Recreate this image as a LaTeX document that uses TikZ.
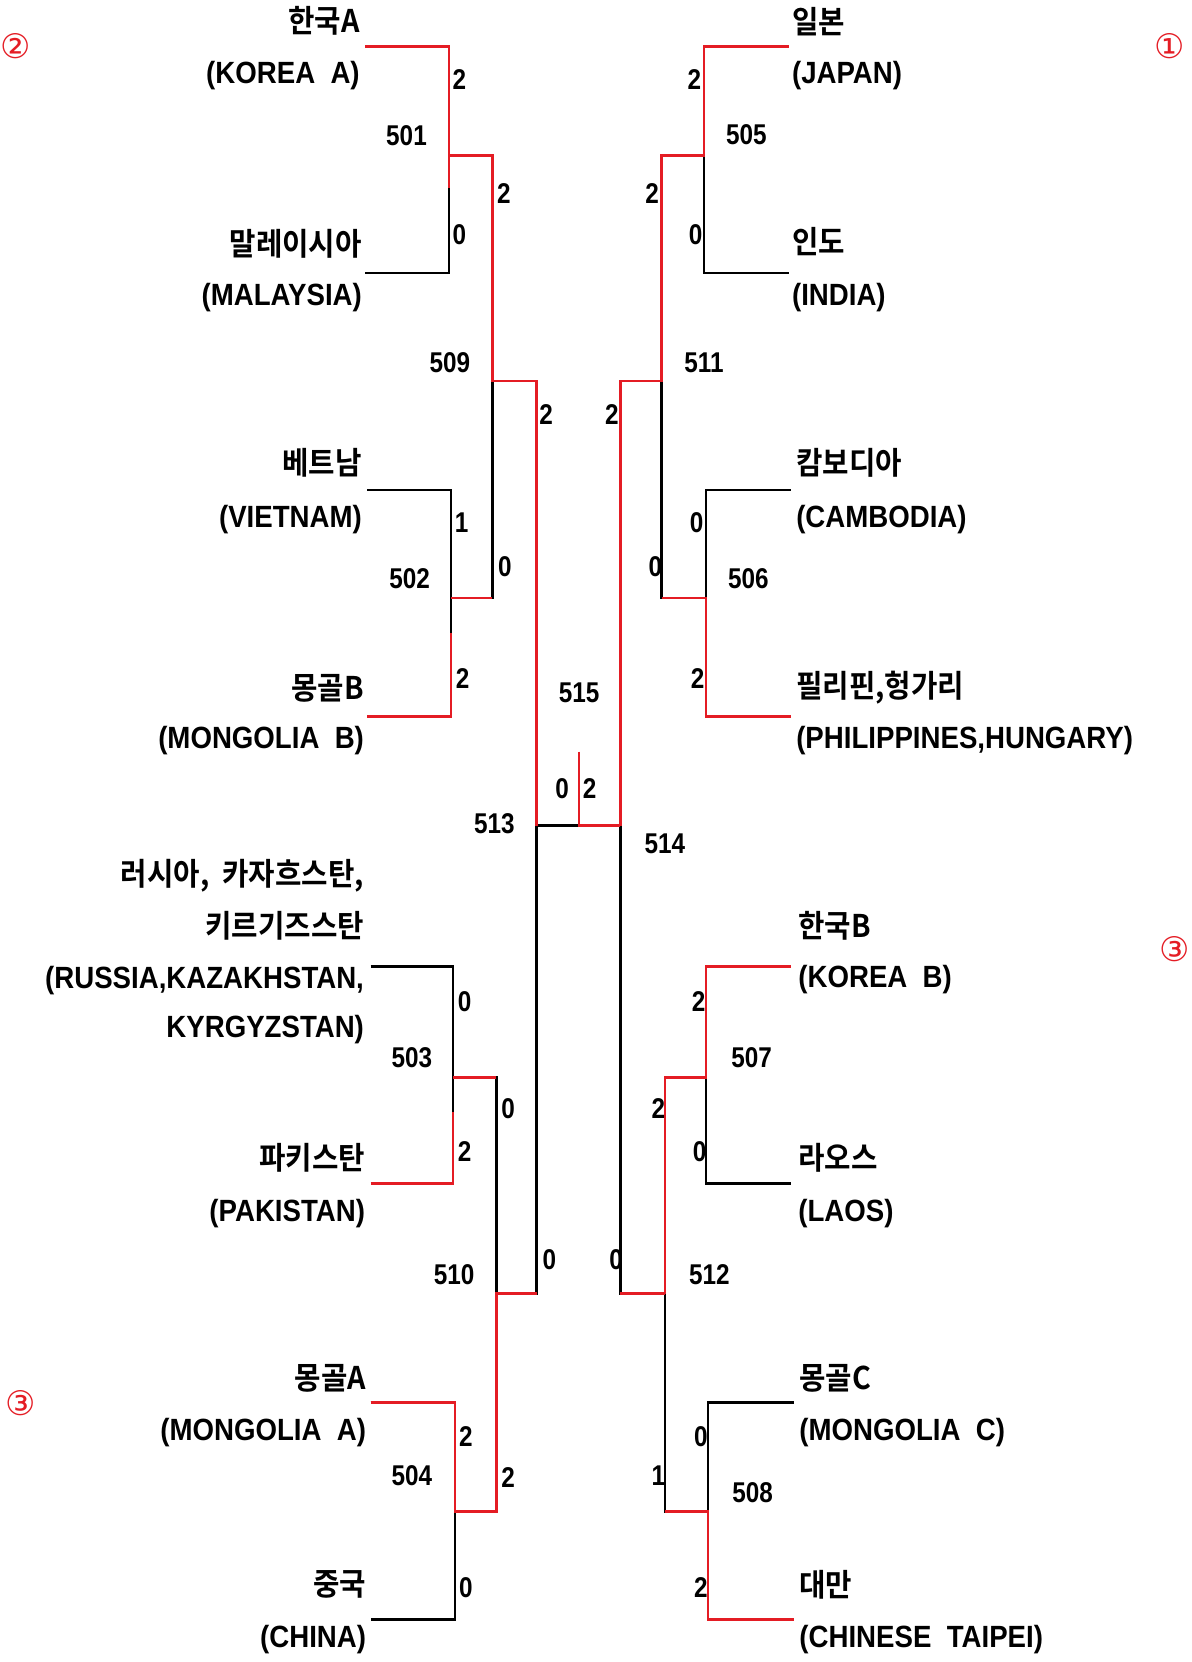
\documentclass[tikz,border=0pt]{standalone}
\usepackage{fontspec}
\setmainfont{Liberation Sans}
\newfontfamily\labfont[FakeStretch=0.9]{Liberation Sans Bold}
\newfontfamily\numfont[FakeStretch=0.85]{Liberation Sans Bold}
\newfontfamily\krfont[FakeStretch=0.92]{Noto Sans CJK KR Bold}
\newfontfamily\circfont{DejaVu Sans}
\definecolor{bred}{RGB}{228,28,36}
\tikzset{
  lose/.style={draw=black, line width=2.4pt, line cap=square},
  win/.style={draw=bred, line width=2.4pt, line cap=square},
  kl/.style={font=\krfont\fontsize{29.5}{31}\selectfont, inner sep=0pt},
  el/.style={font=\labfont\fontsize{29}{31}\selectfont, inner sep=0pt, yshift=-3pt},
  sc/.style={font=\numfont\fontsize{27}{29}\selectfont, inner sep=0pt},
  mn/.style={font=\numfont\fontsize{27}{29}\selectfont, inner sep=0pt},
  cir/.style={font=\circfont\fontsize{32}{34}\selectfont, text=bred, inner sep=0pt}
}
\begin{document}
\begin{tikzpicture}[x=1pt,y=-1pt]
\useasboundingbox (0,0) rectangle (1126,1570);
% ---------- coordinates ----------
\coordinate (t1) at (345,44);
\coordinate (t2) at (345,258);
\coordinate (j501) at (424,147);
\coordinate (t3) at (347,463);
\coordinate (t4) at (347,677);
\coordinate (j502) at (426,565);
\coordinate (j509) at (465,360);
\coordinate (t5) at (350,913);
\coordinate (t6) at (350,1118);
\coordinate (j503) at (428,1018);
\coordinate (t7) at (350,1325);
\coordinate (t8) at (350,1530);
\coordinate (j504) at (430,1428);
\coordinate (j510) at (469,1222);
\coordinate (j513) at (507,780);
\coordinate (f) at (547,710);
\coordinate (fb) at (547,780);
\coordinate (j514) at (586,780);
\coordinate (j511) at (625,360);
\coordinate (j505) at (665,147);
\coordinate (r1) at (745,44);
\coordinate (r2) at (745,258);
\coordinate (j506) at (667,565);
\coordinate (r3) at (747,463);
\coordinate (r4) at (747,677);
\coordinate (j512) at (628,1222);
\coordinate (j507) at (667,1018);
\coordinate (r5) at (747,913);
\coordinate (r6) at (747,1118);
\coordinate (j508) at (669,1428);
\coordinate (r7) at (750,1325);
\coordinate (r8) at (750,1530);
% ---------- black brackets ----------
\draw[lose] (t1) -| (j501) |- (t2);
\draw[lose] (t3) -| (j502) |- (t4);
\draw[lose] (j501) -| (j509) |- (j502);
\draw[lose] (t5) -| (j503) |- (t6);
\draw[lose] (t7) -| (j504) |- (t8);
\draw[lose] (j503) -| (j510) |- (j504);
\draw[lose] (j509) -| (j513) |- (j510);
\draw[lose] (j513) -- (j514);
\draw[lose] (j511) -| (j514) |- (j512);
\draw[lose] (r1) -| (j505) |- (r2);
\draw[lose] (j505) -| (j511) |- (j506);
\draw[lose] (r3) -| (j506) |- (r4);
\draw[lose] (r5) -| (j507) |- (r6);
\draw[lose] (r7) -| (j508) |- (r8);
\draw[lose] (j507) -| (j512) |- (j508);
% ---------- red winner paths ----------
\draw[win] (t1) -| ([yshift=-31pt]j501);
\draw[win] (j501) -| (j509) -- (j509 -| j513) -- (j513);
\draw[win] (t4) -| ([yshift=-33pt]j502);
\draw[win] (j502) -- (j502 -| j509);
\draw[win] (t6) -| ([yshift=-32pt]j503);
\draw[win] (j503) -- (j503 -| j510);
\draw[win] (t7) -| (j504) -- (j504 -| j510) -- (j510) -- (j510 -| j513);
\draw[win] (f) -- (fb) -- (j514);
\draw[win] (j514) -- (j511 -| j514) -- (j511) -- (j505 -| j511) -- (j505) -- (r1 -| j505) -- (r1);
\draw[win] (r4) -| (j506) -- (j506 -| j511);
\draw[win] (j512) -- (j512 -| j514);
\draw[win] (r5) -| (j507) -- (j507 -| j512) -- (j512);
\draw[win] (r8) -| (j508) -- (j508 -| j512);
% ---------- left team labels ----------
\node[kl, anchor=east] (n1k) at (340,20) {한국A};
\node[el, anchor=east] (n1e) at (340,68) {(KOREA\ \ A)};
\node[kl, anchor=east] (n2k) at (342,230) {말레이시아};
\node[el, anchor=east] (n2e) at (342,278) {(MALAYSIA)};
\node[kl, anchor=east] (n3k) at (342,437) {베트남};
\node[el, anchor=east] (n3e) at (342,488) {(VIETNAM)};
\node[kl, anchor=east] (n4k) at (344,650) {몽골B};
\node[el, anchor=east] (n4e) at (344,697) {(MONGOLIA\ \ B)};
\node[kl, anchor=east] (n5k) at (344,827) {러시아,\ \ 카자흐스탄,};
\node[kl, anchor=east] (n5k2) at (344,875) {키르기즈스탄};
\node[el, anchor=east] (n5e) at (344,923) {(RUSSIA,KAZAKHSTAN,};
\node[el, anchor=east] (n5e2) at (344,970) {KYRGYZSTAN)};
\node[kl, anchor=east] (n6k) at (345,1094) {파키스탄};
\node[el, anchor=east] (n6e) at (345,1143) {(PAKISTAN)};
\node[kl, anchor=east] (n7k) at (346,1302) {몽골A};
\node[el, anchor=east] (n7e) at (346,1350) {(MONGOLIA\ \ A)};
\node[kl, anchor=east] (n8k) at (346,1497) {중국};
\node[el, anchor=east] (n8e) at (346,1546) {(CHINA)};
% ---------- right team labels ----------
\node[kl, anchor=west] (m1k) at (748,20) {일본};
\node[el, anchor=west] (m1e) at (748,68) {(JAPAN)};
\node[kl, anchor=west] (m2k) at (748,228) {인도};
\node[el, anchor=west] (m2e) at (748,278) {(INDIA)};
\node[kl, anchor=west] (m3k) at (752,437) {캄보디아};
\node[el, anchor=west] (m3e) at (752,488) {(CAMBODIA)};
\node[kl, anchor=west] (m4k) at (752,650) {필리핀,헝가리};
\node[el, anchor=west] (m4e) at (752,697) {(PHILIPPINES,HUNGARY)};
\node[kl, anchor=west] (m5k) at (754,875) {한국B};
\node[el, anchor=west] (m5e) at (754,922) {(KOREA\ \ B)};
\node[kl, anchor=west] (m6k) at (754,1094) {라오스};
\node[el, anchor=west] (m6e) at (754,1143) {(LAOS)};
\node[kl, anchor=west] (m7k) at (755,1302) {몽골C};
\node[el, anchor=west] (m7e) at (755,1350) {(MONGOLIA\ \ C)};
\node[kl, anchor=west] (m8k) at (755,1497) {대만};
\node[el, anchor=west] (m8e) at (755,1546) {(CHINESE\ \ TAIPEI)};
% ---------- scores ----------
\node[sc] (s1) at (434,75) {2};
\node[sc] (s2) at (434,222) {0};
\node[sc] (s3) at (476,183) {2};
\node[sc] (s4) at (436,494) {1};
\node[sc] (s5) at (437,641) {2};
\node[sc] (s6) at (477,535) {0};
\node[sc] (s7) at (516,392) {2};
\node[sc] (s8) at (439,946) {0};
\node[sc] (s9) at (439,1088) {2};
\node[sc] (s10) at (480,1047) {0};
\node[sc] (s11) at (440,1357) {2};
\node[sc] (s12) at (440,1500) {0};
\node[sc] (s13) at (480,1396) {2};
\node[sc] (s14) at (519,1190) {0};
\node[sc] (s15) at (578,392) {2};
\node[sc] (s16) at (656,75) {2};
\node[sc] (s17) at (657,222) {0};
\node[sc] (s18) at (616,183) {2};
\node[sc] (s19) at (619,535) {0};
\node[sc] (s20) at (658,494) {0};
\node[sc] (s21) at (659,641) {2};
\node[sc] (s22) at (582,1190) {0};
\node[sc] (s23) at (660,946) {2};
\node[sc] (s24) at (661,1088) {0};
\node[sc] (s25) at (622,1047) {2};
\node[sc] (s26) at (622,1394) {1};
\node[sc] (s27) at (662,1357) {0};
\node[sc] (s28) at (662,1500) {2};
\node[sc] (s29) at (531,745) {0};
\node[sc] (s30) at (557,745) {2};
% ---------- match numbers ----------
\node[mn] (g501) at (384,128) {501};
\node[mn] (g502) at (387,547) {502};
\node[mn] (g503) at (389,999) {503};
\node[mn] (g504) at (389,1394) {504};
\node[mn] (g509) at (425,343) {509};
\node[mn] (g510) at (429,1204) {510};
\node[mn] (g513) at (467,778) {513};
\node[mn] (g515) at (547,654) {515};
\node[mn] (g505) at (705,127) {505};
\node[mn] (g506) at (707,547) {506};
\node[mn] (g507) at (710,999) {507};
\node[mn] (g508) at (711,1410) {508};
\node[mn] (g511) at (665,343) {511};
\node[mn] (g512) at (670,1204) {512};
\node[mn] (g514) at (628,797) {514};
% ---------- circled marks ----------
\node[cir] (c2) at (15,44) {②};
\node[cir] (c1) at (1105,44) {①};
\node[cir] (c3r) at (1110,897) {③};
\node[cir] (c3l) at (20,1325) {③};
\end{tikzpicture}
\end{document}
